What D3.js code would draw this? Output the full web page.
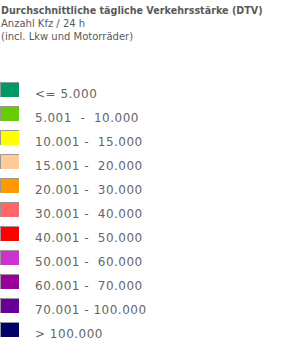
<!DOCTYPE html>
<html>
<head>
	<meta charset="utf-8">
	<title>DTV Legende</title>
	<script src="https://cdn.jsdelivr.net/npm/d3@7"></script>
	<style type="text/css">
		body { margin: 0; background: #fff; }
		.title { font-family: "DejaVu Sans", Verdana, sans-serif; font-size: 10px; fill: #5a5a5a; }
		.title.bold { font-weight: bold; font-size: 9.6px; }
		.label { font-family: "DejaVu Sans", Verdana, sans-serif; font-size: 12px; fill: #666; letter-spacing: 0.5px; white-space: pre; }
	</style>
</head>
<body>
	<script type="text/javascript">
		var width = 292,
			height = 342;

		var titleLines = ["Durchschnittliche tägliche Verkehrsstärke (DTV)",
			"Anzahl Kfz / 24 h",
			"(incl. Lkw und Motorräder)"];

		var classes = ["<= 5.000",
			"5.001  -  10.000",
			"10.001 -  15.000",
			"15.001 -  20.000",
			"20.001 -  30.000",
			"30.001 -  40.000",
			"40.001 -  50.000",
			"50.001 -  60.000",
			"60.001 -  70.000",
			"70.001 - 100.000",
			"> 100.000"];

		var colours = ["#009966", "#66cc00", "#ffff00", "#ffcc99", "#ff9900",
			"#ff6666", "#ff0000", "#cc33cc", "#990099", "#660099", "#000066"];

		var svg = d3.select("body")
					.append("svg")
					.attr("width", width)
					.attr("height", height);

		// header
		svg.selectAll(".title")
			.data(titleLines)
			.enter()
			.append("text")
			.attr("class", function (d, i) { return i == 0 ? "title bold" : "title"; })
			.attr("x", 1)
			.attr("y", function (d, i) { return 14 + i * 13; })
			.text(function (d) { return d; });

		var yScale = d3.scalePoint()
			.domain(classes)
			.range([82, 322]);

		var rows = svg.selectAll(".row")
			.data(classes)
			.enter()
			.append("g")
			.attr("class", "row")
			.attr("transform", function (d) { return "translate(0," + yScale(d) + ")"; });

		rows.append("rect")
			.attr("x", 0)
			.attr("y", 0)
			.attr("width", 19)
			.attr("height", 15)
			.style("fill", function (d, i) { return colours[i]; });

		// grey edge top + left
		rows.append("path")
			.attr("d", "M0.5,15V0.5H19")
			.style("fill", "none")
			.style("stroke", "#999")
			.style("stroke-width", 1);

		rows.append("text")
			.attr("class", "label")
			.attr("x", 35)
			.attr("y", 15.5)
			.attr("xml:space", "preserve")
			.text(function (d) { return d; });
	</script>
</body>
</html>
